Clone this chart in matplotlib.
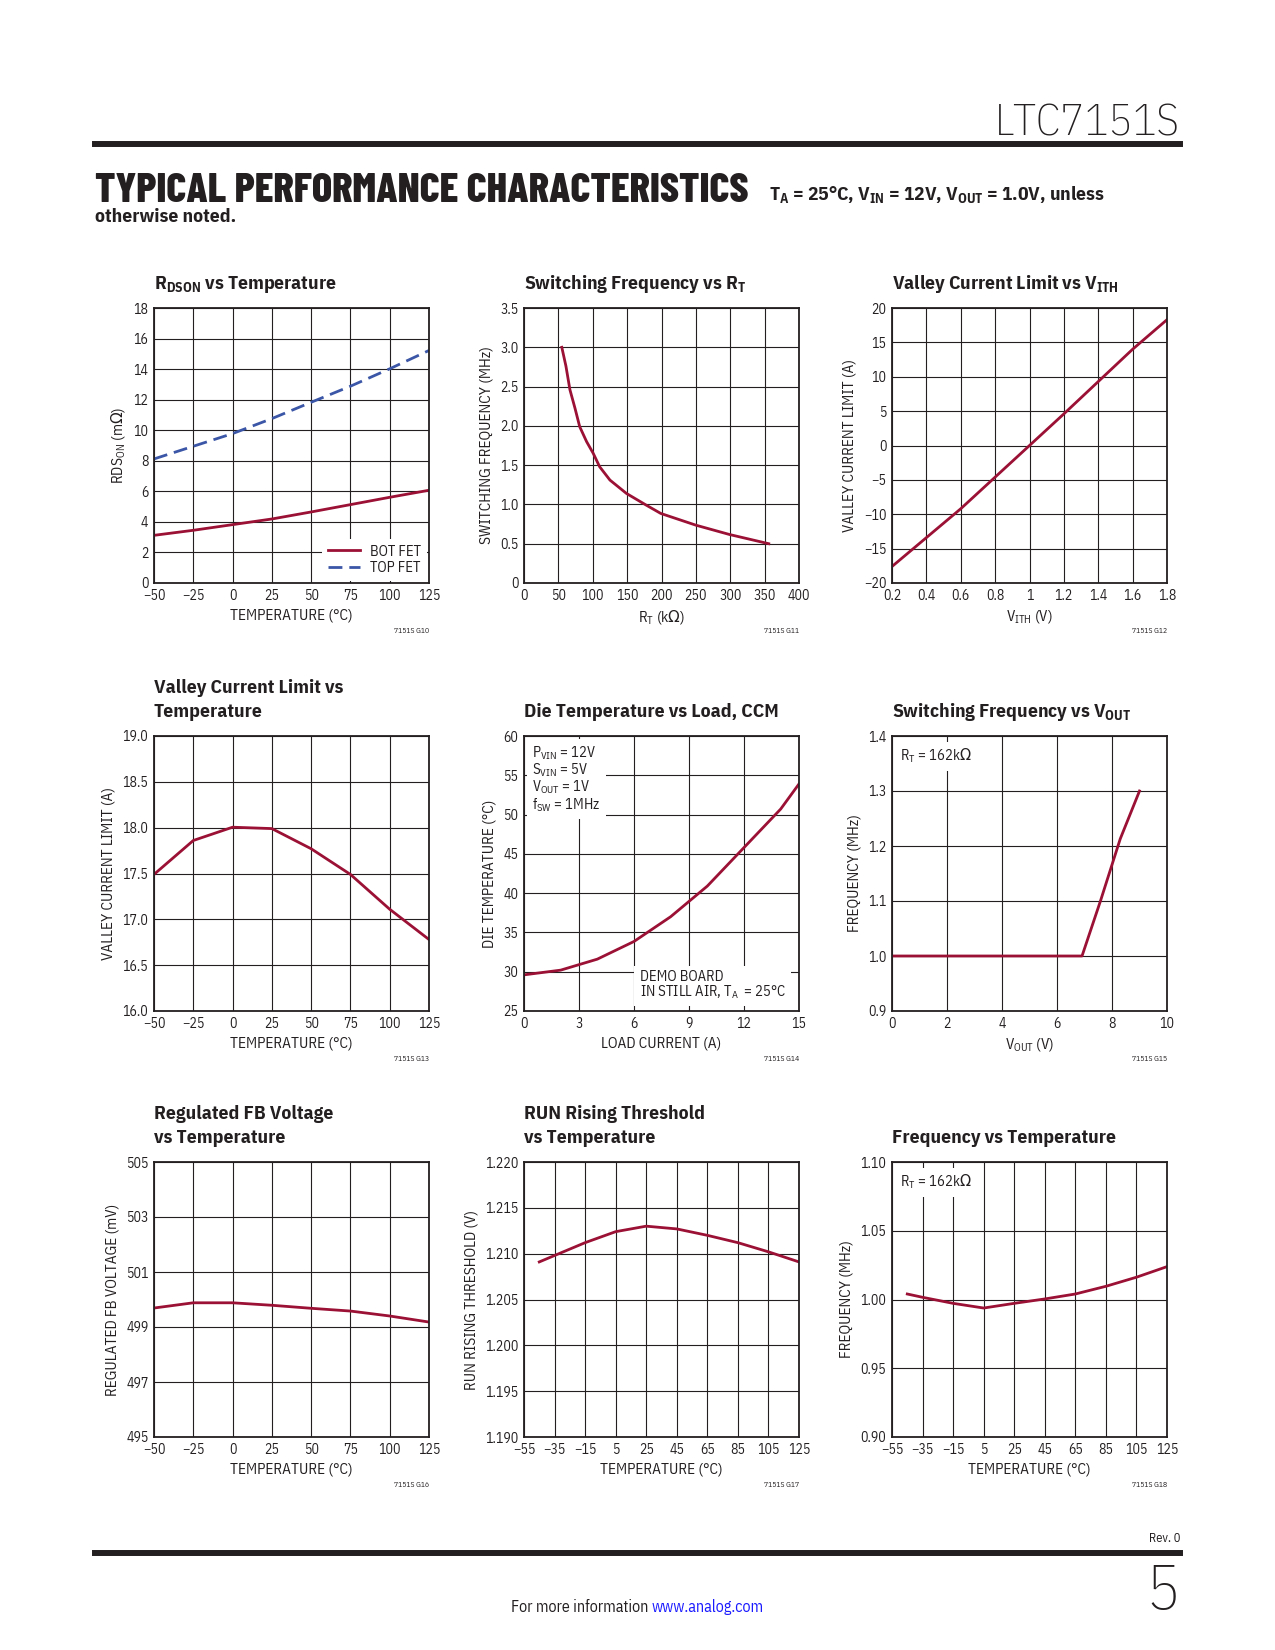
import numpy as np
import matplotlib
matplotlib.use('Agg')
import matplotlib.pyplot as plt
from matplotlib.lines import Line2D
from matplotlib import font_manager

avail = {f.name for f in font_manager.fontManager.ttflist}


def pick(*names):
    return next((n for n in names if n in avail), 'Liberation Sans')


BODY = pick('IBM Plex Sans Condensed', 'Fira Sans Condensed', 'Liberation Sans')
HEAD = pick('Barlow Condensed', 'Fira Sans Extra Condensed', BODY)

plt.rcParams['font.family'] = [BODY, 'DejaVu Sans']
plt.rcParams['mathtext.fontset'] = 'custom'
plt.rcParams['mathtext.rm'] = BODY
plt.rcParams['mathtext.bf'] = BODY + ':bold'
plt.rcParams['mathtext.it'] = BODY + ':italic'
plt.rcParams['mathtext.sf'] = 'DejaVu Sans'   # only used for the Omega sign
plt.rcParams['mathtext.default'] = 'rm'

INK = '#231f20'
RED = '#9b1035'
BLUE = '#3b56a6'
OHM = r'$\mathsf{\Omega}$'

# ---- data ----
temp_50 = [-50, -25, 0, 25, 50, 75, 100, 125]
rds_bot = [3.12, 3.45, 3.82, 4.19, 4.65, 5.13, 5.61, 6.07]
rds_top = [8.12, 8.95, 9.78, 10.76, 11.83, 12.88, 14.02, 15.22]

rt_kohm = [55, 61, 66.8, 74, 81, 91, 100.7, 110, 125, 149, 178, 199, 250, 299, 356]
fsw_rt = [3.0, 2.76, 2.46, 2.23, 1.99, 1.80, 1.65, 1.48, 1.31, 1.14, 0.99, 0.885, 0.736, 0.617, 0.50]

vith = [0.2, 0.4, 0.6, 0.8, 1.0, 1.2, 1.4, 1.6, 1.8]
ilim_vith = [-17.6, -13.4, -9.2, -4.6, 0.0, 4.6, 9.3, 14.0, 18.3]

ilim_temp = [17.49, 17.86, 18.005, 17.99, 17.77, 17.49, 17.11, 16.78]

load_a = [0, 2, 4, 6, 8, 10, 12, 14, 15]
die_temp = [29.6, 30.2, 31.6, 33.85, 37.0, 40.9, 45.8, 50.7, 53.9]

vout_v = [0, 6.91, 7.58, 8.3, 9.0]
fsw_vout = [1.0, 1.0, 1.10, 1.213, 1.30]

vfb_mv = [499.69, 499.88, 499.88, 499.79, 499.68, 499.58, 499.40, 499.18]

temp_45 = [-45, -35, -15, 5, 25, 45, 65, 85, 105, 125]
run_th = [1.2091, 1.2098, 1.2112, 1.2124, 1.2130, 1.2127, 1.2120, 1.2112, 1.2102, 1.2091]
fsw_temp = [1.004, 1.0016, 0.9972, 0.9938, 0.9972, 1.0004, 1.004, 1.0096, 1.0162, 1.0239]

# tick labels
t50_ticks = [-50, -25, 0, 25, 50, 75, 100, 125]
t50_labels = ['\u221250', '\u221225', '0', '25', '50', '75', '100', '125']
t55_ticks = [-55, -35, -15, 5, 25, 45, 65, 85, 105, 125]
t55_labels = ['\u221255', '\u221235', '\u221215', '5', '25', '45', '65', '85', '105', '125']

W, H = 1275, 1650
fig = plt.figure(figsize=(W / 100, H / 100), dpi=100)
fig.patch.set_facecolor('white')


def fx(px):
    return px / W


def fy(py):
    return 1 - py / H


col_left = [154, 524, 892]
row_top = [308, 736, 1162]
SZ = 275


def panel(col, row, xlim, xticks, xlabels, ylim, yticks, ylabels,
          xlabel, ylabel, title, gid):
    left, top = col_left[col], row_top[row]
    ax = fig.add_axes([fx(left), fy(top + SZ), SZ / W, SZ / H])
    ax.set_xlim(xlim)
    ax.set_ylim(ylim)
    ax.set_xticks(xticks, xlabels)
    ax.set_yticks(yticks, ylabels)
    ax.grid(True, color=INK, lw=0.8)
    ax.set_axisbelow(True)
    ax.tick_params(length=0, pad=4, labelsize=10, colors=INK)
    for s in ax.spines.values():
        s.set_linewidth(1.3)
        s.set_color(INK)
    ax.set_xlabel(xlabel, fontsize=11, labelpad=4, color=INK)
    ax.set_ylabel(ylabel, fontsize=11, labelpad=5, color=INK)
    for i, line in enumerate(reversed(title)):
        fig.text(fx(left), fy(top - 19 - 24 * i), line, fontsize=14,
                 fontweight='bold', va='baseline', color=INK)
    fig.text(fx(left + SZ), fy(top + SZ + 50), gid, fontsize=5.5,
             ha='right', va='baseline', color=INK)
    return ax


def note(ax, x, y, s, va='top'):
    ax.text(x, y, s, transform=ax.transAxes, ha='left', va=va, fontsize=10.5,
            linespacing=1.0, color=INK, zorder=1.5,
            bbox=dict(boxstyle='square,pad=0.35', fc='white', ec='none'))


# 1 RDSON vs temperature
ax = panel(0, 0, (-50, 125), t50_ticks, t50_labels, (0, 18), range(0, 19, 2),
           [str(v) for v in range(0, 19, 2)], 'TEMPERATURE (°C)',
           r'$\mathrm{RDS_{ON}}$ (m' + OHM + ')', [r'$\mathbf{R_{DSON}}$ vs Temperature'], '7151S G10')
ax.plot(temp_50, rds_bot, color=RED, lw=2, label='BOT FET')
ax.plot(temp_50, rds_top, color=BLUE, lw=2, dashes=(5, 2.5), label='TOP FET')
leg = ax.legend(loc='lower right', fontsize=10.5, frameon=True, fancybox=False,
                edgecolor='none', facecolor='white', framealpha=1, handlelength=2.2,
                handletextpad=0.7, borderaxespad=0.12, labelspacing=0.2, borderpad=0.4)
for t in leg.get_texts():
    t.set_color(INK)

# 2 switching frequency vs RT
ax = panel(1, 0, (0, 400), range(0, 401, 50), [str(v) for v in range(0, 401, 50)],
           (0, 3.5), np.arange(0, 3.51, 0.5), ['0', '0.5', '1.0', '1.5', '2.0', '2.5', '3.0', '3.5'],
           r'$R_T$ (k' + OHM + ')', 'SWITCHING FREQUENCY (MHz)',
           [r'Switching Frequency vs $\mathbf{R_T}$'], '7151S G11')
ax.plot(rt_kohm, fsw_rt, color=RED, lw=2)

# 3 valley current limit vs VITH
ax = panel(2, 0, (0.2, 1.8), vith, ['0.2', '0.4', '0.6', '0.8', '1', '1.2', '1.4', '1.6', '1.8'],
           (-20, 20), range(-20, 21, 5),
           ['\u221220', '\u221215', '\u221210', '\u22125', '0', '5', '10', '15', '20'],
           r'$V_{ITH}$ (V)', 'VALLEY CURRENT LIMIT (A)',
           [r'Valley Current Limit vs $\mathbf{V_{ITH}}$'], '7151S G12')
ax.plot(vith, ilim_vith, color=RED, lw=2)

# 4 valley current limit vs temperature
ax = panel(0, 1, (-50, 125), t50_ticks, t50_labels, (16, 19), np.arange(16, 19.01, 0.5),
           ['16.0', '16.5', '17.0', '17.5', '18.0', '18.5', '19.0'],
           'TEMPERATURE (°C)', 'VALLEY CURRENT LIMIT (A)',
           ['Valley Current Limit vs', 'Temperature'], '7151S G13')
ax.plot(temp_50, ilim_temp, color=RED, lw=2)

# 5 die temperature vs load
ax = panel(1, 1, (0, 15), range(0, 16, 3), [str(v) for v in range(0, 16, 3)],
           (25, 60), range(25, 61, 5), [str(v) for v in range(25, 61, 5)],
           'LOAD CURRENT (A)', 'DIE TEMPERATURE (°C)',
           ['Die Temperature vs Load, CCM'], '7151S G14')
ax.plot(load_a, die_temp, color=RED, lw=2)
note(ax, 0.03, 0.97, '$P_{VIN}$ = 12V\n$S_{VIN}$ = 5V\n$V_{OUT}$ = 1V\n$f_{SW}$ = 1MHz')
note(ax, 0.42, 0.035, 'DEMO BOARD\nIN STILL AIR, $T_A$  = 25°C', va='bottom')

# 6 switching frequency vs VOUT
ax = panel(2, 1, (0, 10), range(0, 11, 2), [str(v) for v in range(0, 11, 2)],
           (0.9, 1.4), np.arange(0.9, 1.401, 0.1), ['0.9', '1.0', '1.1', '1.2', '1.3', '1.4'],
           r'$V_{OUT}$ (V)', 'FREQUENCY (MHz)',
           [r'Switching Frequency vs $\mathbf{V_{OUT}}$'], '7151S G15')
ax.plot(vout_v, fsw_vout, color=RED, lw=2)
note(ax, 0.03, 0.96, '$R_T$ = 162k' + OHM)

# 7 regulated FB voltage vs temperature
ax = panel(0, 2, (-50, 125), t50_ticks, t50_labels, (495, 505), range(495, 506, 2),
           [str(v) for v in range(495, 506, 2)], 'TEMPERATURE (°C)',
           'REGULATED FB VOLTAGE (mV)', ['Regulated FB Voltage', 'vs Temperature'], '7151S G16')
ax.plot(temp_50, vfb_mv, color=RED, lw=2)

# 8 RUN rising threshold vs temperature
ax = panel(1, 2, (-55, 125), t55_ticks, t55_labels, (1.19, 1.22), np.linspace(1.19, 1.22, 7),
           ['1.190', '1.195', '1.200', '1.205', '1.210', '1.215', '1.220'],
           'TEMPERATURE (°C)', 'RUN RISING THRESHOLD (V)',
           ['RUN Rising Threshold', 'vs Temperature'], '7151S G17')
ax.plot(temp_45, run_th, color=RED, lw=2)

# 9 frequency vs temperature
ax = panel(2, 2, (-55, 125), t55_ticks, t55_labels, (0.9, 1.1), np.linspace(0.9, 1.1, 5),
           ['0.90', '0.95', '1.00', '1.05', '1.10'],
           'TEMPERATURE (°C)', 'FREQUENCY (MHz)', ['Frequency vs Temperature'], '7151S G18')
ax.plot(temp_45, fsw_temp, color=RED, lw=2)
note(ax, 0.03, 0.96, '$R_T$ = 162k' + OHM)

# ---- page header / footer ----
fig.text(fx(1180), fy(136), 'LTC7151S', ha='right', va='baseline', fontsize=32,
         fontweight='light', color=INK)
fig.add_artist(Line2D([fx(95), fx(1180)], [fy(144), fy(144)], lw=4.3, color=INK))
fig.text(fx(95), fy(202), 'TYPICAL PERFORMANCE CHARACTERISTICS', fontsize=30.5,
         fontweight=800, va='baseline', color=INK, family=[HEAD, 'DejaVu Sans'])
fig.text(fx(769), fy(200), r'$\mathbf{T_A}$ = 25°C, $\mathbf{V_{IN}}$ = 12V, '
         r'$\mathbf{V_{OUT}}$ = 1.0V, unless', fontsize=14, fontweight='bold',
         va='baseline', color=INK)
fig.text(fx(95), fy(222), 'otherwise noted.', fontsize=14, fontweight='bold',
         va='baseline', color=INK)

fig.text(fx(1180), fy(1542), 'Rev. 0', ha='right', va='baseline', fontsize=9, color=INK)
fig.add_artist(Line2D([fx(95), fx(1180)], [fy(1553), fy(1553)], lw=4.3, color=INK))
fig.text(fx(1180), fy(1609), '5', ha='right', va='baseline', fontsize=45,
         fontweight='light', color=INK)
fig.text(fx(652), fy(1612), 'For more information ', ha='right', va='baseline',
         fontsize=11.5, color=INK)
fig.text(fx(652), fy(1612), 'www.analog.com', ha='left', va='baseline',
         fontsize=11.5, color='#1a1aff')

fig.savefig('out.png', dpi=100, facecolor='white')
